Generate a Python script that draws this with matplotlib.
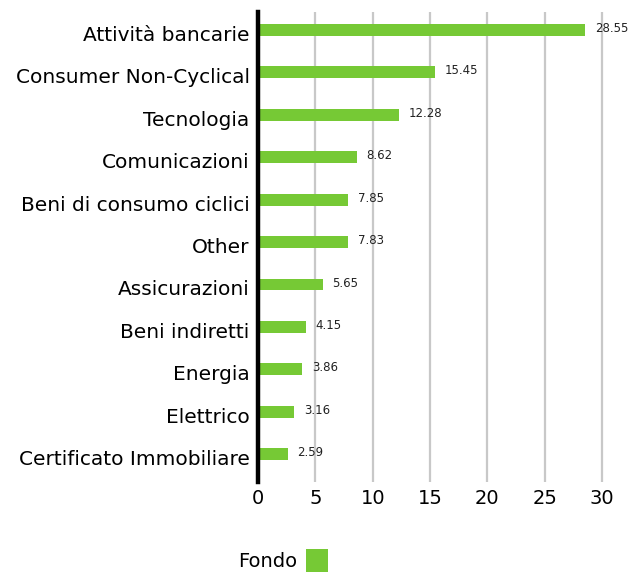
import matplotlib.pyplot as plt
import matplotlib.transforms as mtransforms

# Data
categories = ["Attività bancarie", "Consumer Non-Cyclical", "Tecnologia", "Comunicazioni",
              "Beni di consumo ciclici", "Other", "Assicurazioni", "Beni indiretti",
              "Energia", "Elettrico", "Certificato Immobiliare"]
values = [28.55, 15.45, 12.28, 8.62, 7.85, 7.83, 5.65, 4.15, 3.86, 3.16, 2.59]
xticks = [0, 5, 10, 15, 20, 25, 30]
series_name = "Fondo"

green = "#76c935"

fig = plt.figure(figsize=(6.36, 5.72), dpi=100)
ax = fig.add_axes([0.4057, 0.157, 0.55, 0.822])

ypos = list(range(len(categories)))
ax.barh(ypos, values, height=0.28, color=green, label=series_name, zorder=3)

for y, v in zip(ypos, values):
    ax.annotate("{:.2f}".format(v), (v, y), xytext=(7, 1), textcoords="offset points",
                va="center", ha="left", fontsize=8.5, color="#222222")

ax.set_yticks(ypos)
ax.set_yticklabels(categories, fontsize=14.5)
ax.set_ylim(10.66, -0.42)
ax.set_xlim(0, 30.5)
ax.set_xticks(xticks)
ax.set_xticklabels([str(t) for t in xticks], fontsize=14)
ax.tick_params(length=0)
ax.tick_params(axis="y", pad=6)
ax.tick_params(axis="x", pad=5)

# nudge category labels down a little
offset = mtransforms.ScaledTranslation(0, -2.5 / 72, fig.dpi_scale_trans)
for lbl in ax.get_yticklabels():
    lbl.set_transform(lbl.get_transform() + offset)

ax.grid(axis="x", color="#c8c8c8", linewidth=1.6, zorder=0)
for s in ["top", "right", "bottom"]:
    ax.spines[s].set_visible(False)
ax.spines["left"].set_color("black")
ax.spines["left"].set_linewidth(3.2)
ax.spines["left"].set_zorder(4)

fig.legend(loc="lower center", bbox_to_anchor=(0.445, -0.03), frameon=False,
           fontsize=14, markerfirst=False, handlelength=1.1, handleheight=1.4,
           handletextpad=0.45)

fig.savefig("out.png", dpi=100)
